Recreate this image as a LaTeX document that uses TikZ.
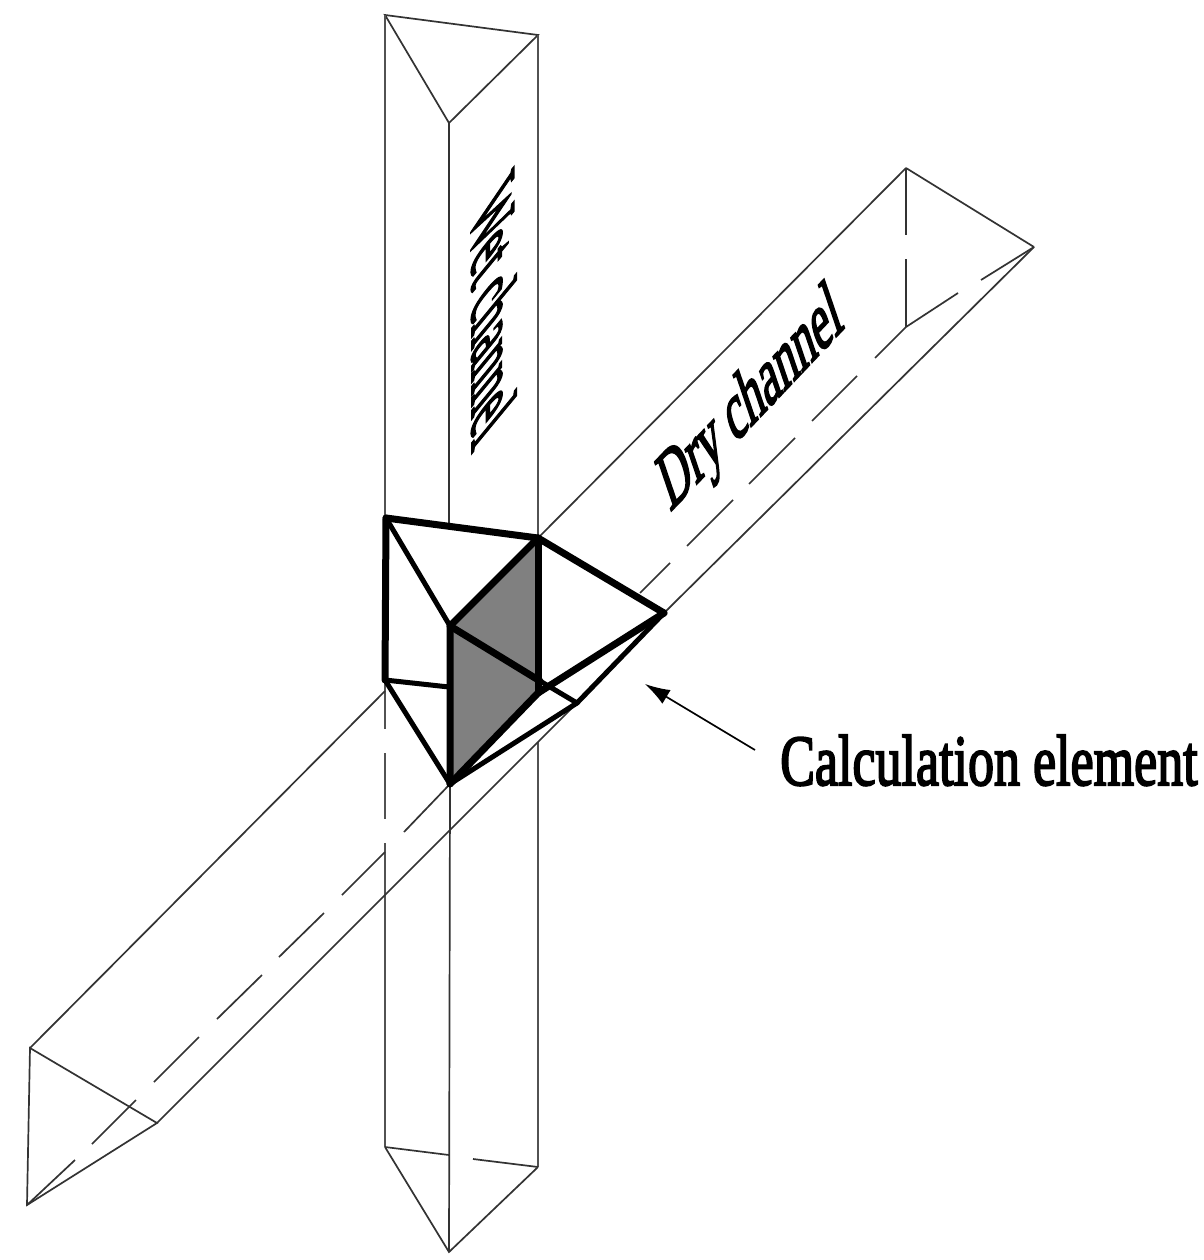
\documentclass[tikz,border=0pt]{standalone}
\usepackage{fontspec}
\setmainfont{Liberation Serif}
\newfontfamily\heavyserif[FakeBold=3]{Liberation Serif}
\usetikzlibrary{arrows.meta}
\tikzset{
  thinline/.style={line width=1.7pt,draw=black!80,line cap=butt},
  wideline/.style={line width=2.3pt,draw=black!68,line cap=butt},
  midline/.style={line width=5pt,draw=black,line join=round,line cap=round},
  thickline/.style={line width=7pt,draw=black,line join=round,line cap=round},
  lab/.style={inner sep=0pt,anchor=base west,font=\heavyserif\fontsize{40}{40}\selectfont,transform shape},
}
\begin{document}
\begin{tikzpicture}[x=1pt,y=1pt]
\useasboundingbox (0,0) rectangle (1203,-1260);
\fill[white] (0,0) rectangle (1203,-1260);
% wet channel
\coordinate (wa) at (385,-15); \coordinate (wb) at (538,-35); \coordinate (wc) at (449,-123);
\coordinate (wd) at (385,-1147); \coordinate (we) at (449,-1155); \coordinate (wf) at (538,-1167); \coordinate (wg) at (449,-1252);
% dry channel
\coordinate (dd) at (906,-168); \coordinate (de) at (1034,-247); \coordinate (df) at (906,-327);
\coordinate (dg) at (30,-1048); \coordinate (dh) at (157,-1123); \coordinate (di) at (27,-1205);
% element
\coordinate (p1) at (386,-518); \coordinate (p2) at (538,-538); \coordinate (p3) at (664,-613);
\coordinate (q1) at (450,-626); \coordinate (r1) at (385,-680); \coordinate (r2) at (449,-687);
\coordinate (r3) at (538,-693); \coordinate (s1) at (450,-784); \coordinate (t1) at (577,-703);
\coordinate (u1) at (540,-681);
% wet channel lines
\draw[thinline] (wa) -- (wb) -- (wc) -- cycle;
\draw[wideline] (wa) -- (385,-518);
\draw[wideline] (wb) -- (538,-538);
\draw[thinline] (wc) -- (449,-525);
\draw[wideline] (r1) -- (385,-729);
\draw[wideline] (385,-753) -- (385,-819);
\draw[wideline] (385,-843) -- (wd);
\draw[thinline] (s1) -- (wg);
\draw[wideline] (538,-742) -- (wf);
\draw[thinline] (wd) -- (we);
\draw[thinline] (473,-1159) -- (wf);
\draw[thinline] (wd) -- (wg) -- (wf);
% dry channel lines
\draw[thinline] (dd) -- (p2);
\draw[thinline] (dg) -- (385,-691);
\draw[thinline] (de) -- (p3);
\draw[thinline] (dh) -- (t1);
\draw[thinline] (dd) -- (de);
\draw[thinline] (dd) -- (906,-235);
\draw[thinline] (906,-259) -- (df);
\draw[thinline] (df) -- (958,-293);
\draw[thinline] (981,-280) -- (de);
\draw[thinline] (df) -- (875,-358);
\draw[thinline] (857,-376) -- (812,-421);
\draw[thinline] (795,-438) -- (749,-484);
\draw[thinline] (733,-500) -- (687,-546);
\draw[thinline] (670,-563) -- (640,-593);
\draw[thinline] (s1) -- (404,-832);
\draw[thinline] (385,-852) -- (342,-895);
\draw[thinline] (324,-913) -- (279,-957);
\draw[thinline] (262,-975) -- (217,-1019);
\draw[thinline] (199,-1037) -- (154,-1082);
\draw[thinline] (136,-1100) -- (92,-1144);
\draw[thinline] (75,-1160) -- (di);
\draw[thinline] (dg) -- (di) -- (dh) -- cycle;
% calculation element
\fill[black!50] (q1) -- (p2) -- (r3) -- (s1) -- cycle;
\draw[thickline] (p1) -- (p2) -- (p3);
\draw[thickline] (p1) -- (r1);
\draw[midline] (p1) -- (q1);
\draw[thickline] (p2) -- (q1) -- (s1);
\draw[thickline] (p2) -- (r3);
\draw[thickline] (q1) -- (u1);
\draw[midline] (u1) -- (t1);
\draw[midline] (r1) -- (r2);
\draw[midline] (r1) -- (s1);
\draw[thickline] (s1) -- (r3) -- (p3);
\draw[midline] (s1) -- (t1);
\draw[midline] (t1) -- (p3);
% labels
\begin{scope}[shift={(472,-217)},cm={0,-1.2,1.59,1.93,(0,0)}]
  \node[lab] (wetlabel) at (0,0) {Wet channel};
\end{scope}
\begin{scope}[shift={(670,-512)},cm={0.89,0.94,-0.63,1.85,(0,0)}]
  \node[lab] (drylabel) at (0,0) {Dry channel};
\end{scope}
\begin{scope}[shift={(780,-785)},cm={1.30,0,0,1.8,(0,0)}]
  \node[lab] (calclabel) at (0,0) {Calculation element};
\end{scope}
\coordinate (arrowtail) at (755,-750);
\coordinate (arrowtip) at (645,-684);
\draw[line width=1.7pt,black,-{Latex[length=25pt,width=16pt]}] (arrowtail) -- (arrowtip);
\end{tikzpicture}
\end{document}
